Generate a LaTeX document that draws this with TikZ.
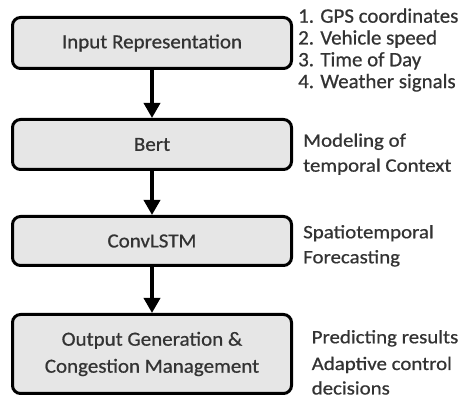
\documentclass[tikz,border=0pt]{standalone}
\usepackage{fontspec}
\setmainfont{Carlito}
\newfontfamily\boxfont{Carlito}[FakeStretch=1.05,FakeBold=0.7]
\newfontfamily\listfont{Carlito}[FakeStretch=1.02,FakeBold=0.7]
\newfontfamily\notefont{Carlito}[FakeStretch=1.10,FakeBold=0.7]
\usetikzlibrary{arrows.meta}
\definecolor{boxfill}{HTML}{E6E6E6}
\definecolor{inktext}{HTML}{333333}
\tikzset{
  stage/.style={draw=black, fill=boxfill, line width=3pt, rounded corners=8pt,
    minimum width=279pt, inner sep=0pt, text=inktext, align=center,
    font={\boxfont\fontsize{20}{27}\selectfont}},
  flow/.style={line width=3.5pt, -{Triangle[width=16pt,length=15pt]}},
  listline/.style={anchor=base west, inner sep=0pt, text=inktext,
    font={\listfont\fontsize{20.5}{22}\selectfont}},
  noteline/.style={anchor=base west, inner sep=0pt, text=inktext,
    font={\notefont\fontsize{19}{25}\selectfont}}
}
\begin{document}
\begin{tikzpicture}[x=1pt, y=-1pt]
  \useasboundingbox (0,0) rectangle (464,398);

  % processing stages
  \node[stage, minimum height=51pt] (input) at (152,43) {Input Representation};
  \node[stage, minimum height=50pt] (bert) at (152,144.5) {Bert};
  \node[stage, minimum height=49pt] (conv) at (152,241) {ConvLSTM};
  \node[stage, minimum height=79pt] (output) at (152,354)
    {Output Generation \&\\Congestion Management};

  % flow between stages
  \draw[flow] (input.south) -- (bert.north);
  \draw[flow] (bert.south) -- (conv.north);
  \draw[flow] (conv.south) -- (output.north);

  % input features
  \node[listline] (f1) at (298,22.7) {1. GPS coordinates};
  \node[listline] (f2) at (298,44.5) {2. Vehicle speed};
  \node[listline] (f3) at (298,66.3) {3. Time of Day};
  \node[listline] (f4) at (298,88.1) {4. Weather signals};

  % stage descriptions
  \node[noteline] (b1) at (303,146.7) {Modeling of};
  \node[noteline] (b2) at (303,171.7) {temporal Context};
  \node[noteline] (c1) at (303,238.3) {Spatiotemporal};
  \node[noteline] (c2) at (303,263.3) {Forecasting};
  \node[noteline] (o1) at (311.5,343.3) {Predicting results};
  \node[noteline] (o2) at (311.5,370) {Adaptive control};
  \node[noteline] (o3) at (311.5,394.5) {decisions};
\end{tikzpicture}
\end{document}
